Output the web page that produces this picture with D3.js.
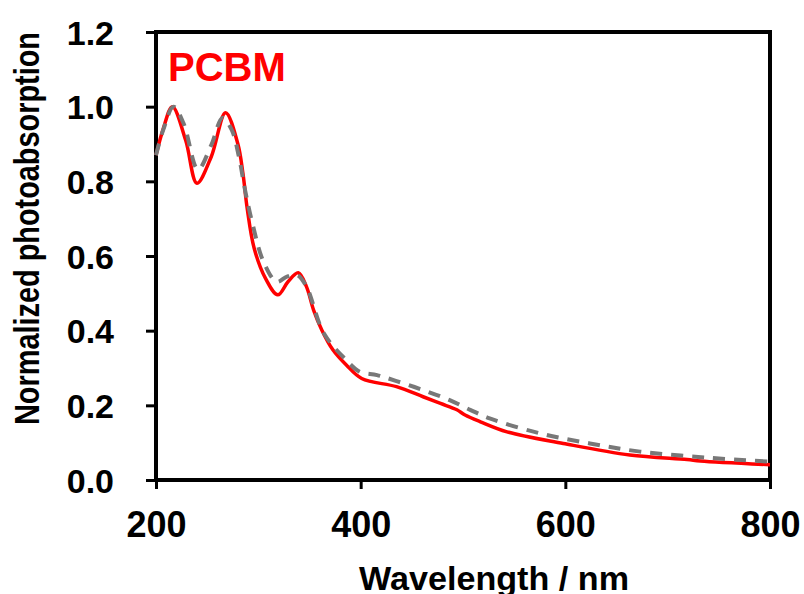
<!DOCTYPE html>
<html>
<head>
<meta charset="utf-8">
<script src="https://d3js.org/d3.v7.min.js"></script>
<style>
  body { margin: 0; background: #fff; }
  .tick text { font-family: "Liberation Sans", Arial, sans-serif; font-weight: bold; fill: #000; }
</style>
</head>
<body>
<div id="chart"></div>
<script>
// ------------------------------------- Data
const redWavelength = [200, 207, 216, 229, 240, 254, 268, 280, 285, 289, 296, 307, 319, 329, 339, 347, 354, 362, 373, 386, 401, 435, 461, 478, 494, 502, 517, 543, 598, 663, 719, 732, 800];
const redAbsorb     = [0.87, 0.94, 1.0, 0.91, 0.795, 0.866, 0.984, 0.90, 0.82, 0.73, 0.62, 0.54, 0.496, 0.531, 0.555, 0.518, 0.455, 0.402, 0.348, 0.308, 0.272, 0.25, 0.223, 0.205, 0.188, 0.174, 0.156, 0.129, 0.098, 0.067, 0.055, 0.051, 0.041];

const grayWavelength = [200, 207, 217, 227, 241, 254, 265, 274, 281, 287, 294, 305, 318, 328, 338, 347, 364, 386, 399, 416, 435, 461, 487, 507, 526, 575, 624, 673, 738, 800];
const grayAbsorb     = [0.87, 0.937, 1.0, 0.955, 0.832, 0.897, 0.97, 0.938, 0.866, 0.777, 0.69, 0.585, 0.531, 0.545, 0.549, 0.518, 0.393, 0.321, 0.29, 0.281, 0.265, 0.241, 0.214, 0.188, 0.165, 0.125, 0.098, 0.076, 0.06, 0.049];

const xTicks = [200, 400, 600, 800];
const yTicks = [0, 0.2, 0.4, 0.6, 0.8, 1.0, 1.2];

const red = redWavelength.map((w, i) => ({ w: w, v: redAbsorb[i] }));
const gray = grayWavelength.map((w, i) => ({ w: w, v: grayAbsorb[i] }));

// ------------------------------------- Chart size setup
const width = 804, height = 594;
const margin = { top: 32, right: 34, bottom: 114, left: 156 };
const innerW = width - margin.left - margin.right;
const innerH = height - margin.top - margin.bottom;

const svg = d3.select("#chart")
  .append("svg")
    .attr("width", width)
    .attr("height", height);

const chart = svg.append("g")
    .attr("transform", `translate(${margin.left},${margin.top})`);

// Scales
const x = d3.scaleLinear().domain([200, 800]).range([0, innerW]);
const y = d3.scaleLinear().domain([0, 1.2]).range([innerH, 0]);

// Axes
const xAxis = chart.append("g")
    .attr("transform", `translate(0,${innerH})`)
    .call(d3.axisBottom(x).tickValues(xTicks).tickSize(9).tickPadding(22).tickFormat(d3.format("d")));
xAxis.selectAll("text").style("font-size", "36px");

const yAxis = chart.append("g")
    .call(d3.axisLeft(y).tickValues(yTicks).tickSize(10).tickPadding(32).tickFormat(d3.format(".1f")));
yAxis.selectAll("text").style("font-size", "34px").attr("dy", "0.36em");

chart.selectAll(".domain").remove();
chart.selectAll(".tick line").attr("stroke", "#000").attr("stroke-width", 3);

// Frame box
chart.append("rect")
    .attr("width", innerW)
    .attr("height", innerH)
    .attr("fill", "none")
    .attr("stroke", "#000")
    .attr("stroke-width", 4);

// Lines
const line = d3.line()
    .x(d => x(d.w))
    .y(d => y(d.v))
    .curve(d3.curveCatmullRom.alpha(0.5));

chart.append("path")
    .datum(red)
    .attr("fill", "none")
    .attr("stroke", "#ff0000")
    .attr("stroke-width", 3.5)
    .attr("stroke-linejoin", "round")
    .attr("d", line);

chart.append("path")
    .datum(gray)
    .attr("fill", "none")
    .attr("stroke", "#787878")
    .attr("stroke-width", 4)
    .attr("stroke-dasharray", "12,9")
    .attr("d", line);

// Label inside the plot
chart.append("text")
    .text("PCBM")
    .attr("x", 12)
    .attr("y", 49)
    .attr("fill", "#ff0000")
    .style("font-family", "'Liberation Sans', Arial, sans-serif")
    .style("font-weight", "bold")
    .style("font-size", "40px");

// Axis titles
svg.append("text")
    .text("Wavelength / nm")
    .attr("x", 359)
    .attr("y", 590)
    .attr("textLength", 270)
    .attr("lengthAdjust", "spacingAndGlyphs")
    .style("font-family", "'Liberation Sans', Arial, sans-serif")
    .style("font-weight", "bold")
    .style("font-size", "34px");

svg.append("text")
    .text("Normalized photoabsorption")
    .attr("transform", "translate(39,425) rotate(-90)")
    .attr("textLength", 393)
    .attr("lengthAdjust", "spacingAndGlyphs")
    .style("font-family", "'Liberation Sans', Arial, sans-serif")
    .style("font-weight", "bold")
    .style("font-size", "35px");
</script>
</body>
</html>
